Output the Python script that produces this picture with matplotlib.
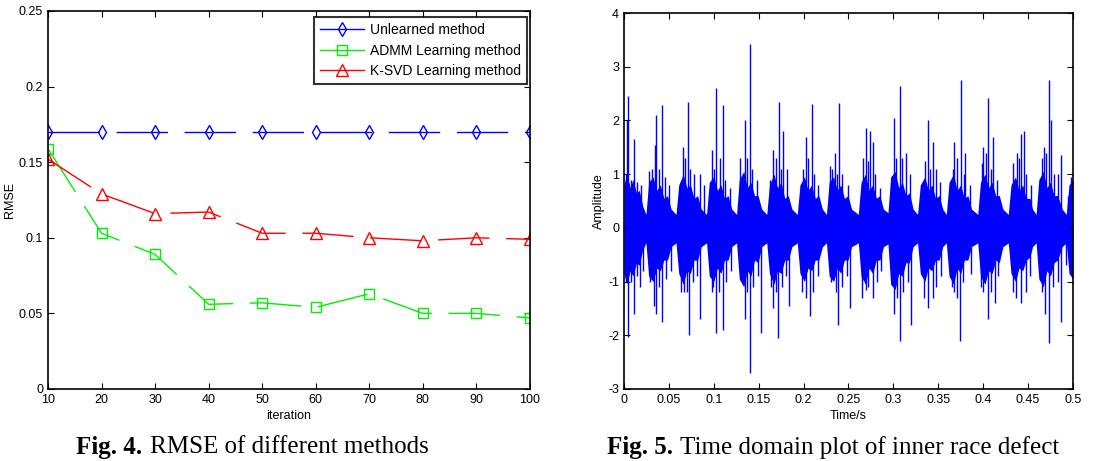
import numpy as np
import matplotlib.pyplot as plt

plt.rcParams['font.family'] = ['Liberation Sans', 'DejaVu Sans']
plt.rcParams['axes.unicode_minus'] = False

# Fig. 4 data
iters = [10, 20, 30, 40, 50, 60, 70, 80, 90, 100]
rmse_unlearned = [0.170, 0.170, 0.170, 0.170, 0.170, 0.170, 0.170, 0.170, 0.170, 0.170]
rmse_admm = [0.159, 0.103, 0.089, 0.056, 0.057, 0.054, 0.063, 0.050, 0.050, 0.047]
rmse_ksvd = [0.152, 0.129, 0.116, 0.117, 0.103, 0.103, 0.100, 0.098, 0.100, 0.099]

# Fig. 5 data
# dense core of the signal: envelope knots
core_t = [0.000, 0.003, 0.007, 0.010, 0.014, 0.017, 0.021,
          0.0245, 0.0275, 0.0325, 0.0365, 0.0405, 0.0445, 0.0485, 0.0525,
          0.058, 0.061, 0.066, 0.070, 0.074, 0.078, 0.082, 0.086,
          0.092, 0.095, 0.100, 0.104, 0.108, 0.112, 0.116, 0.120,
          0.1254, 0.1284, 0.1334, 0.1374, 0.1414, 0.1454, 0.1494, 0.1534,
          0.159, 0.162, 0.167, 0.171, 0.175, 0.179, 0.183, 0.187,
          0.193, 0.196, 0.201, 0.205, 0.209, 0.213, 0.217, 0.221,
          0.2255, 0.2285, 0.2335, 0.2375, 0.2415, 0.2455, 0.2495, 0.2535,
          0.261, 0.264, 0.269, 0.273, 0.277, 0.281, 0.285, 0.289,
          0.294, 0.297, 0.302, 0.306, 0.310, 0.314, 0.318, 0.322,
          0.327, 0.330, 0.335, 0.339, 0.343, 0.347, 0.351, 0.355,
          0.359, 0.362, 0.367, 0.371, 0.375, 0.379, 0.383, 0.387,
          0.394, 0.397, 0.402, 0.406, 0.410, 0.414, 0.418, 0.422,
          0.428, 0.431, 0.436, 0.440, 0.444, 0.448, 0.452, 0.455,
          0.459, 0.462, 0.467, 0.471, 0.475, 0.479, 0.483, 0.488,
          0.4926, 0.4956, 0.500]
core_hi = [0.80, 1.00, 0.75, 0.90, 0.65, 0.70, 0.40,
           0.25, 0.85, 0.95, 0.70, 0.80, 0.55, 0.60, 0.35,
           0.25, 0.80, 1.00, 0.75, 0.80, 0.55, 0.60, 0.35,
           0.25, 0.85, 0.95, 0.70, 0.80, 0.55, 0.60, 0.35,
           0.25, 0.90, 1.05, 0.75, 0.85, 0.60, 0.60, 0.35,
           0.25, 0.80, 1.00, 0.75, 0.85, 0.55, 0.60, 0.35,
           0.25, 0.80, 0.95, 0.70, 0.80, 0.55, 0.60, 0.35,
           0.25, 0.85, 0.95, 0.70, 0.80, 0.55, 0.60, 0.35,
           0.25, 0.85, 1.00, 0.70, 0.80, 0.55, 0.60, 0.35,
           0.28, 0.95, 1.05, 0.75, 0.85, 0.60, 0.65, 0.35,
           0.25, 0.80, 0.95, 0.70, 0.80, 0.55, 0.60, 0.35,
           0.25, 0.85, 1.00, 0.70, 0.80, 0.55, 0.60, 0.35,
           0.25, 0.85, 1.00, 0.75, 0.85, 0.60, 0.60, 0.35,
           0.25, 0.80, 0.95, 0.70, 0.80, 0.55, 0.55, 0.35,
           0.25, 0.90, 1.05, 0.75, 0.85, 0.60, 0.60, 0.35,
           0.25, 0.80, 0.90]
core_lo = [-0.85, -1.05, -0.80, -0.90, -0.65, -0.70, -0.40,
           -0.28, -0.90, -1.00, -0.75, -0.80, -0.60, -0.60, -0.35,
           -0.28, -0.85, -1.05, -0.80, -0.85, -0.60, -0.60, -0.35,
           -0.28, -0.90, -1.00, -0.75, -0.85, -0.60, -0.60, -0.35,
           -0.28, -0.95, -1.10, -0.80, -0.90, -0.60, -0.65, -0.35,
           -0.28, -0.85, -1.05, -0.80, -0.85, -0.60, -0.60, -0.35,
           -0.28, -0.85, -1.00, -0.75, -0.80, -0.60, -0.60, -0.35,
           -0.28, -0.90, -1.00, -0.75, -0.85, -0.60, -0.60, -0.35,
           -0.28, -0.90, -1.05, -0.75, -0.85, -0.60, -0.60, -0.35,
           -0.30, -1.05, -1.15, -0.85, -0.90, -0.65, -0.65, -0.35,
           -0.28, -0.85, -1.00, -0.75, -0.80, -0.60, -0.60, -0.35,
           -0.28, -0.90, -1.05, -0.75, -0.85, -0.60, -0.60, -0.35,
           -0.28, -0.90, -1.05, -0.80, -0.85, -0.60, -0.65, -0.35,
           -0.28, -0.85, -1.00, -0.75, -0.80, -0.60, -0.55, -0.35,
           -0.28, -0.95, -1.10, -0.80, -0.90, -0.65, -0.60, -0.35,
           -0.28, -0.85, -0.95]

# upward spikes (time, peak)
up_t = [0.003, 0.005, 0.011, 0.031, 0.035, 0.036, 0.042, 0.066, 0.0716, 0.085,
        0.0975, 0.103, 0.110, 0.129, 0.135, 0.140, 0.166, 0.1725, 0.177, 0.2025,
        0.209, 0.229, 0.235, 0.240, 0.269, 0.2745, 0.277, 0.301, 0.307, 0.314,
        0.3387, 0.344, 0.368, 0.375, 0.3795, 0.400, 0.4054, 0.411, 0.438, 0.4425,
        0.446, 0.4677, 0.4733, 0.476, 0.487, 0.498,
        0.002, 0.008, 0.015, 0.019, 0.028, 0.039, 0.046, 0.050, 0.068, 0.074,
        0.078, 0.089, 0.100, 0.107, 0.113, 0.118, 0.131, 0.137, 0.143, 0.148,
        0.163, 0.169, 0.175, 0.182, 0.199, 0.205, 0.212, 0.216, 0.232, 0.237,
        0.243, 0.250, 0.266, 0.272, 0.280, 0.285, 0.303, 0.310, 0.318, 0.335,
        0.341, 0.347, 0.352, 0.366, 0.371, 0.379, 0.385, 0.399, 0.403, 0.409,
        0.415, 0.433, 0.440, 0.448, 0.453, 0.466, 0.470, 0.479, 0.483, 0.494]
up_v = [2.00, 2.45, 1.65, 1.10, 1.55, 2.10, 2.28, 1.50, 2.35, 1.00,
        1.45, 2.60, 2.28, 1.30, 2.00, 3.42, 1.45, 2.35, 1.80, 1.70,
        2.30, 1.15, 1.40, 2.32, 1.85, 1.80, 1.60, 2.05, 2.65, 1.40,
        2.00, 1.60, 1.60, 2.75, 1.40, 1.50, 2.42, 1.70, 1.40, 1.75,
        1.80, 1.50, 2.76, 2.00, 1.35, 0.95,
        1.00, 0.90, 0.85, 0.80, 1.05, 1.10, 0.95, 0.80, 1.30, 1.10,
        1.00, 0.80, 1.10, 1.30, 0.90, 0.75, 0.90, 1.30, 1.10, 0.90,
        0.90, 1.30, 1.10, 1.10, 1.10, 1.30, 1.00, 0.80, 1.10, 1.00,
        1.00, 0.80, 1.30, 1.25, 1.00, 0.75, 1.30, 1.30, 1.00, 1.25,
        1.10, 1.10, 0.85, 1.10, 1.30, 1.00, 0.80, 1.20, 1.40, 1.10,
        0.90, 1.20, 1.30, 1.00, 0.80, 1.30, 1.40, 1.00, 1.00, 0.60]

# downward spikes (time, trough)
dn_t = [0.0025, 0.005, 0.011, 0.018, 0.034, 0.036, 0.042, 0.0668, 0.0727, 0.0846,
        0.0975, 0.103, 0.1098, 0.1346, 0.140, 0.1525, 0.1662, 0.1717, 0.184, 0.2025,
        0.207, 0.2385, 0.2515, 0.269, 0.2775, 0.3008, 0.307, 0.3193, 0.3387, 0.344,
        0.368, 0.3739, 0.400, 0.4054, 0.4128, 0.4425, 0.448, 0.4684, 0.4733, 0.487,
        0.4993,
        0.008, 0.014, 0.021, 0.029, 0.039, 0.047, 0.052, 0.063, 0.070, 0.077,
        0.081, 0.099, 0.106, 0.114, 0.119, 0.131, 0.137, 0.144, 0.149, 0.164,
        0.169, 0.176, 0.180, 0.198, 0.211, 0.216, 0.231, 0.236, 0.243, 0.248,
        0.265, 0.272, 0.282, 0.286, 0.304, 0.311, 0.316, 0.334, 0.348, 0.353,
        0.365, 0.371, 0.378, 0.386, 0.398, 0.409, 0.416, 0.433, 0.437, 0.452,
        0.465, 0.478, 0.483, 0.492]
dn_v = [-1.00, -2.03, -1.60, -1.10, -1.45, -1.60, -1.75, -1.20, -2.00, -1.70,
        -1.20, -1.95, -1.90, -1.70, -2.70, -1.95, -1.50, -2.05, -1.45, -1.30,
        -1.65, -1.80, -1.50, -1.15, -1.30, -1.60, -2.10, -1.80, -1.50, -1.30,
        -1.20, -2.10, -1.20, -1.70, -1.40, -1.40, -1.20, -1.60, -2.15, -1.75,
        -0.90,
        -1.00, -0.90, -0.80, -1.00, -1.10, -0.95, -0.80, -1.20, -1.20, -1.00,
        -0.90, -1.10, -1.20, -1.00, -0.80, -1.00, -1.20, -1.10, -0.90, -1.10,
        -1.20, -1.10, -0.90, -1.20, -1.20, -0.90, -1.00, -1.20, -1.10, -0.90,
        -1.30, -1.10, -1.00, -0.80, -1.30, -1.20, -1.00, -1.30, -1.10, -0.90,
        -1.10, -1.30, -1.00, -0.85, -1.10, -1.20, -0.90, -1.20, -1.30, -0.90,
        -1.20, -1.10, -1.00, -0.70]

fig = plt.figure(figsize=(11.18, 4.61), dpi=100)

dash = (0, (37, 12))

# ---- Fig. 4 ----
ax1 = fig.add_axes([0.0429, 0.1562, 0.4311, 0.820])
ax1.plot(iters, rmse_unlearned, color='blue', ls=dash, lw=1, marker='d',
         ms=7, mfc='none', mew=1, label='Unlearned method')
ax1.plot(iters, rmse_admm, color='#00ee00', ls=dash, lw=1, marker='s',
         ms=7, mfc='none', mew=1, label='ADMM Learning method')
ax1.plot(iters, rmse_ksvd, color='red', ls=dash, lw=1, marker='^',
         ms=8, mfc='none', mew=1, label='K-SVD Learning method')
ax1.set_xlim(10, 100)
ax1.set_ylim(0, 0.25)
ax1.set_xticks(iters)
ax1.set_yticks([0, 0.05, 0.1, 0.15, 0.2, 0.25])
ax1.set_yticklabels(['0', '0.05', '0.1', '0.15', '0.2', '0.25'])
ax1.set_xlabel('iteration', fontsize=9, labelpad=3)
ax1.set_ylabel('RMSE', fontsize=9, labelpad=2)
leg = ax1.legend(loc='upper right', bbox_to_anchor=(0.994, 0.984),
                 borderaxespad=0, fontsize=10, frameon=True, fancybox=False,
                 edgecolor='black', handlelength=3.2, handletextpad=0.4,
                 labelspacing=0.45, borderpad=0.45)
leg.get_frame().set_linewidth(1.5)
for l in leg.get_lines():
    l.set_linestyle('-')

# ---- Fig. 5 ----
ax2 = fig.add_axes([0.5581, 0.1562, 0.4016, 0.8156])
ax2.fill_between(core_t, core_lo, core_hi, color='blue', lw=0)
ax2.vlines(up_t, 0, up_v, color='blue', lw=1.0)
ax2.vlines(dn_t, dn_v, 0, color='blue', lw=1.0)
ax2.set_xlim(0, 0.5)
ax2.set_ylim(-3, 4)
xt = [0, 0.05, 0.1, 0.15, 0.2, 0.25, 0.3, 0.35, 0.4, 0.45, 0.5]
ax2.set_xticks(xt)
ax2.set_xticklabels(['0', '0.05', '0.1', '0.15', '0.2', '0.25', '0.3', '0.35',
                     '0.4', '0.45', '0.5'])
ax2.set_yticks(range(-3, 5))
ax2.set_xlabel('Time/s', fontsize=9, labelpad=3)
ax2.set_ylabel('Amplitude', fontsize=9, labelpad=2)

for ax in (ax1, ax2):
    ax.tick_params(direction='in', top=True, right=True, labelsize=9,
                   length=4, width=0.8)
    for s in ax.spines.values():
        s.set_linewidth(1.2)

# captions
fig.text(0.068, 0.030, 'Fig. 4.', family='Liberation Serif', weight='bold',
         fontsize=18, va='center', ha='left')
fig.text(0.134, 0.030, 'RMSE of different methods', family='Liberation Serif',
         fontsize=18, va='center', ha='left')
fig.text(0.543, 0.030, 'Fig. 5.', family='Liberation Serif', weight='bold',
         fontsize=18, va='center', ha='left')
fig.text(0.608, 0.030, 'Time domain plot of inner race defect',
         family='Liberation Serif', fontsize=18, va='center', ha='left')

fig.savefig('out.png', dpi=100)
